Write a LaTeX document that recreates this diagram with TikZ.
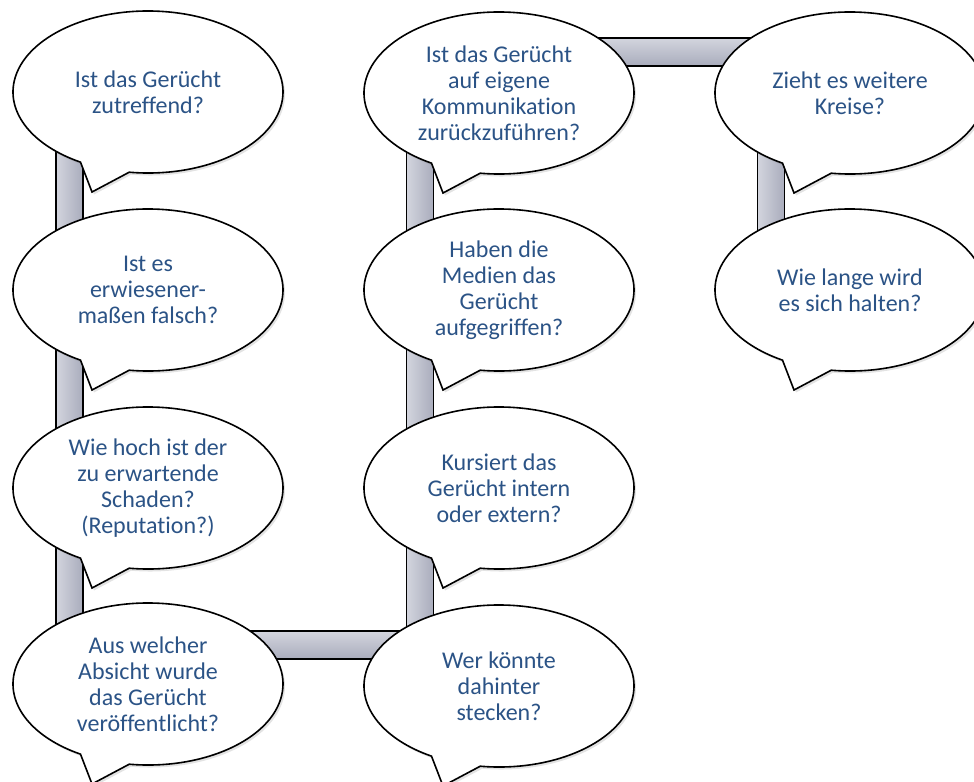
\documentclass[tikz,border=0pt]{standalone}
\usepackage{fontspec}
\setmainfont{Carlito}[Ligatures=NoCommon]
\usetikzlibrary{calc,shadows}
\pgfdeclarelayer{background}
\pgfsetlayers{background,main}
\definecolor{qblue}{HTML}{2B5386}
\definecolor{baredge}{HTML}{A9ACBC}
\definecolor{barlight}{HTML}{D3D5DE}
\tikzset{
  bubble/.style={fill=white, draw=black, line width=1.6bp,
    drop shadow={shadow xshift=2bp, shadow yshift=-2.5bp, opacity=0.22}},
  qtext/.style={text=qblue, align=center, inner sep=0pt,
    font=\fontsize{24bp}{26bp}\selectfont},
  vbar/.style={draw=black, line width=1.6bp, left color=barlight, right color=baredge},
  hbar/.style={draw=black, line width=1.6bp, top color=barlight, bottom color=baredge},
}
% speech bubble: name, centre x, centre y, text
\newcommand\speechbubble[4]{%
  \coordinate (#1c) at (#2,#3);
  \path[bubble] ($(#1c)+(98:135 and 81)$)
    arc[start angle=98, end angle=-240, x radius=135, y radius=81]
    -- ($(#1c)+(-56,100)$) -- cycle;
  \node[qtext] (#1) at (#1c) {#4};
}
\begin{document}
\begin{tikzpicture}[x=1bp, y=-1bp]
\useasboundingbox (0,0) rectangle (974,782);

\speechbubble{q1}{148}{92}{Ist das Gerücht\\zutreffend?}
\speechbubble{q2}{148}{290}{Ist es\\erwiesener-\\maßen falsch?}
\speechbubble{q3}{148}{488}{Wie hoch ist der\\zu erwartende\\Schaden?\\(Reputation?)}
\speechbubble{q4}{148}{684}{Aus welcher\\Absicht wurde\\das Gerücht\\veröffentlicht?}
\speechbubble{q5}{499}{93}{Ist das Gerücht\\auf eigene\\Kommunikation\\zurückzuführen?}
\speechbubble{q6}{499}{290}{Haben die\\Medien das\\Gerücht\\aufgegriffen?}
\speechbubble{q7}{499}{488}{Kursiert das\\Gerücht intern\\oder extern?}
\speechbubble{q8}{499}{686}{Wer könnte\\dahinter\\stecken?}
\speechbubble{q9}{850}{93}{Zieht es weitere\\Kreise?}
\speechbubble{q10}{850}{290}{Wie lange wird\\es sich halten?}

% the grey track linking the bubbles, with its joints hidden behind them
\coordinate (j0) at ($(q1c)+(-78.5,40)$);
\coordinate (j1) at ($(q4c)+(-78.5,-39)$);
\coordinate (j2) at ($(q8c)+(-79,-41)$);
\coordinate (j3) at ($(q5c)+(-79,-41)$);
\coordinate (j4) at ($(q9c)+(-79,-41)$);
\coordinate (j5) at ($(q10c)+(-79,40)$);
\begin{pgfonlayer}{background}
  \path[vbar] ($(j0)+(-13.5,0)$) rectangle ($(j1)+(13.5,14)$);
  \path[hbar] ($(j1)+(-13.5,-14)$) rectangle ($(j2)+(13.5,14)$);
  \path[vbar] ($(j3)+(-13.5,-14)$) rectangle ($(j2)+(13.5,14)$);
  \path[hbar] ($(j3)+(-13.5,-14)$) rectangle ($(j4)+(13.5,14)$);
  \path[vbar] ($(j4)+(-13.5,-14)$) rectangle ($(j5)+(13.5,0)$);
\end{pgfonlayer}
\end{tikzpicture}
\end{document}
